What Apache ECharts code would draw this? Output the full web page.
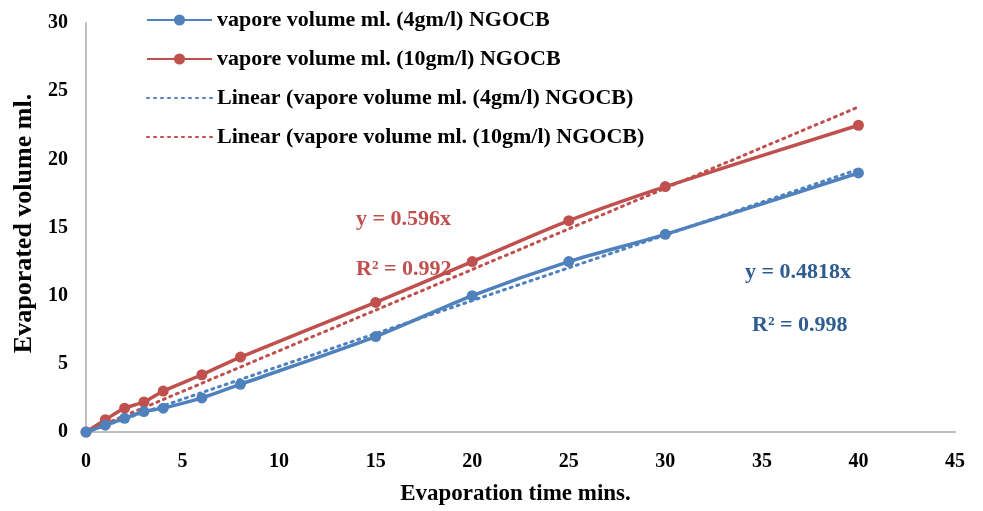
<!DOCTYPE html>
<html>
<head>
<meta charset="utf-8">
<script src="https://cdn.jsdelivr.net/npm/echarts@6/dist/echarts.min.js"></script>
<style>
  html, body { margin: 0; padding: 0; background: #fff; }
  #chart { width: 983px; height: 511px; }
</style>
</head>
<body>
<div id="chart"></div>
<script>
// 蒸发时间 (mins)
var times = [0, 1, 2, 3, 4, 6, 8, 15, 20, 25, 30, 40];
// 4gm/l
var vol4 = [0, 0.5, 1, 1.5, 1.75, 2.5, 3.5, 7, 10, 12.5, 14.5, 19];
// 10gm/l
var vol10 = [0, 0.9, 1.75, 2.2, 3, 4.2, 5.5, 9.5, 12.5, 15.5, 18, 22.5];
// 趋势线端点
var trend4 = [[0, 0], [40, 19.27]];
var trend10 = [[0, 0], [40, 23.84]];

var names = [
  'vapore volume ml. (4gm/l) NGOCB',
  'vapore volume ml. (10gm/l) NGOCB',
  'Linear (vapore volume ml. (4gm/l) NGOCB)',
  'Linear (vapore volume ml. (10gm/l) NGOCB)'
];
var blue = '#4f81bd';
var red = '#c0504d';
var font = 'Liberation Serif';

function pairs(xs, ys) {
  return xs.map(function (x, i) { return [x, ys[i]]; });
}

var chart = echarts.init(document.getElementById('chart'));
var option = {
  animation: false,
  textStyle: { fontFamily: font },
  grid: { left: 86, right: 28, top: 23, bottom: 77 },
  legend: {
    orient: 'vertical',
    left: 141,
    top: 4,
    itemWidth: 65,
    itemHeight: 14,
    itemGap: 17,
    textStyle: { fontFamily: font, fontWeight: 'bold', fontSize: 22, color: '#000' },
    data: [
      { name: names[0] },
      { name: names[1] },
      { name: names[2], itemStyle: { opacity: 0 } },
      { name: names[3], itemStyle: { opacity: 0 } }
    ]
  },
  xAxis: {
    type: 'value',
    min: 0, max: 45, interval: 5,
    name: 'Evaporation time mins.',
    nameLocation: 'middle',
    nameGap: 51,
    nameTextStyle: { fontFamily: font, fontWeight: 'bold', fontSize: 23, color: '#000', padding: [0, 10, 0, 0] },
    axisLine: { lineStyle: { color: '#bfbfbf', width: 2 } },
    axisTick: { show: false },
    splitLine: { show: false },
    axisLabel: { fontFamily: font, fontWeight: 'bold', fontSize: 20, color: '#000', margin: 20 }
  },
  yAxis: {
    type: 'value',
    min: 0, max: 30, interval: 5,
    name: 'Evaporated volume ml.',
    nameLocation: 'middle',
    nameGap: 49,
    nameTextStyle: { fontFamily: font, fontWeight: 'bold', fontSize: 26, color: '#000', padding: [0, 0, 0, 8] },
    axisLine: { show: true, lineStyle: { color: '#bfbfbf', width: 2 } },
    axisTick: { show: false },
    splitLine: { show: false },
    axisLabel: { fontFamily: font, fontWeight: 'bold', fontSize: 20, color: '#000', margin: 18 }
  },
  series: [
    {
      name: names[0], type: 'line', data: pairs(times, vol4),
      smooth: 0.25, symbol: 'circle', symbolSize: 11,
      itemStyle: { color: blue }, lineStyle: { color: blue, width: 3.5 }, z: 4
    },
    {
      name: names[1], type: 'line', data: pairs(times, vol10),
      smooth: 0.25, symbol: 'circle', symbolSize: 11,
      itemStyle: { color: red }, lineStyle: { color: red, width: 3.5 }, z: 3
    },
    {
      name: names[2], type: 'line', data: trend4, showSymbol: false, symbol: 'none',
      itemStyle: { color: blue }, lineStyle: { color: blue, width: 3, type: [2, 5], cap: 'round' }, z: 2
    },
    {
      name: names[3], type: 'line', data: trend10, showSymbol: false, symbol: 'none',
      itemStyle: { color: red }, lineStyle: { color: red, width: 3, type: [2, 5], cap: 'round' }, z: 2
    }
  ],
  graphic: [
    { type: 'text', left: 356, top: 208, style: { text: 'y = 0.596x', font: 'bold 22px "Liberation Serif"', fill: red } },
    { type: 'text', left: 356, top: 258, style: { text: 'R² = 0.992', font: 'bold 22px "Liberation Serif"', fill: red } },
    { type: 'text', left: 745, top: 261, style: { text: 'y = 0.4818x', font: 'bold 22px "Liberation Serif"', fill: '#2f5c8f' } },
    { type: 'text', left: 752, top: 314, style: { text: 'R² = 0.998', font: 'bold 22px "Liberation Serif"', fill: '#2f5c8f' } }
  ]
};
chart.setOption(option);
</script>
</body>
</html>
